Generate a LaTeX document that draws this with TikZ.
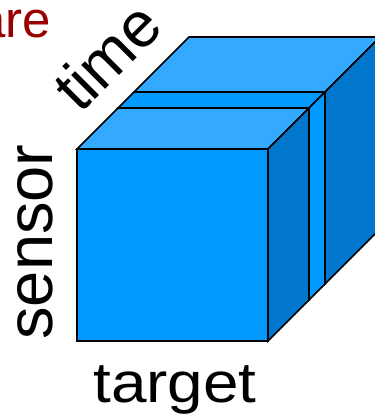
\documentclass[tikz,border=0pt]{standalone}
\usepackage{fontspec}
\setmainfont{Liberation Sans}
\definecolor{cfront}{RGB}{0,153,255}
\definecolor{ctop}{RGB}{51,170,255}
\definecolor{cside}{RGB}{0,119,204}
\definecolor{cred}{RGB}{153,0,0}
\tikzset{
  face/.style={draw=black, line width=1.6pt, line join=miter},
  lbl/.style={inner sep=0pt, text=black},
}
\begin{document}
\begin{tikzpicture}[x=1pt,y=1pt]
\useasboundingbox (0,0) rectangle (375,416);
\clip (0,0) rectangle (375,416);
% slab 3 (back): offset 57, depth 55
\filldraw[face, fill=ctop] (134,324) -- (325,324) -- (380,379) -- (189,379) -- cycle;
\filldraw[face, fill=cside] (325,132) -- (380,187) -- (380,379) -- (325,324) -- cycle;
% slab 2 (thin): offset 41, depth 16
\filldraw[face, fill=cfront] (118,308) -- (309,308) -- (325,324) -- (134,324) -- cycle;
\filldraw[face, fill=cfront] (309,116) -- (325,132) -- (325,324) -- (309,308) -- cycle;
% slab 1 (front): depth 41
\filldraw[face, fill=ctop] (77,267) -- (268,267) -- (309,308) -- (118,308) -- cycle;
\filldraw[face, fill=cside] (268,75) -- (309,116) -- (309,308) -- (268,267) -- cycle;
\filldraw[face, fill=cfront] (77,75) rectangle (268,267);
% labels
\node[lbl, anchor=base, font=\fontsize{57}{60}\selectfont, xscale=1.12] (target) at (175,13) {target};
\node[lbl, anchor=base, rotate=90, font=\fontsize{65}{70}\selectfont] (sensor) at (52,174) {sensor};
\node[lbl, anchor=base, rotate=45, font=\fontsize{64}{68}\selectfont] (time) at (123,344) {time};
\node[lbl, anchor=base east, text=cred, font=\fontsize{51}{54}\selectfont] (are) at (51,378) {are};
\end{tikzpicture}
\end{document}
